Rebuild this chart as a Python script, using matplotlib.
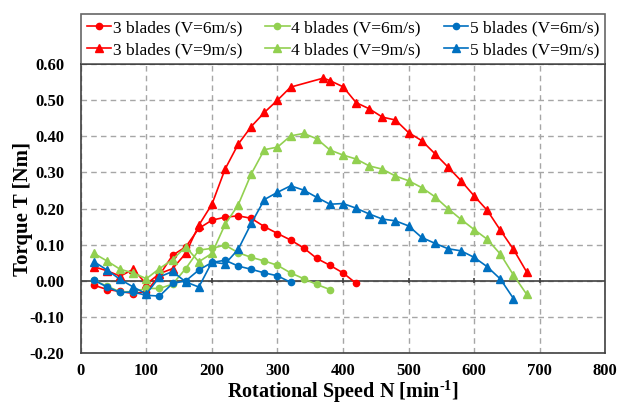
import matplotlib
matplotlib.use('Agg')
import matplotlib.pyplot as plt
import numpy as np

plt.rcParams['font.family'] = ['Liberation Serif', 'DejaVu Serif']
plt.rcParams['mathtext.fontset'] = 'custom'
plt.rcParams['mathtext.bf'] = 'Liberation Serif:bold'
plt.rcParams['mathtext.rm'] = 'Liberation Serif'

# 3 blades
rpm_3b_v6 = [20, 40, 60, 80, 100, 120, 140, 160, 180, 200, 220, 240, 260, 280,
             300, 320, 340, 360, 380, 400, 420]
torque_3b_v6 = [-0.012, -0.024, -0.029, -0.035, -0.030, 0.016, 0.071, 0.094,
                0.145, 0.168, 0.176, 0.180, 0.173, 0.150, 0.131, 0.113, 0.091,
                0.062, 0.043, 0.022, -0.007]
rpm_3b_v9 = [20, 40, 60, 80, 100, 120, 140, 160, 180, 200, 220, 240, 260, 280,
             300, 320, 370, 380, 400, 420, 440, 460, 480, 500, 520, 540, 560,
             580, 600, 620, 640, 660, 680]
torque_3b_v9 = [0.039, 0.028, 0.013, 0.032, -0.009, 0.020, 0.034, 0.076, 0.154,
                0.212, 0.309, 0.378, 0.427, 0.466, 0.500, 0.536, 0.561, 0.554,
                0.537, 0.493, 0.476, 0.453, 0.445, 0.410, 0.388, 0.352, 0.315,
                0.277, 0.235, 0.195, 0.140, 0.087, 0.025]

# 4 blades
rpm_4b_v6 = [20, 40, 60, 80, 100, 120, 140, 160, 180, 200, 220, 240, 260, 280,
             300, 320, 340, 360, 380]
torque_4b_v6 = [0.002, -0.015, -0.030, -0.030, -0.021, -0.021, -0.009, 0.034,
                0.085, 0.090, 0.099, 0.078, 0.065, 0.055, 0.043, 0.022, 0.006,
                -0.010, -0.024]
rpm_4b_v9 = [20, 40, 60, 80, 100, 120, 140, 160, 180, 200, 220, 240, 260, 280,
             300, 320, 340, 360, 380, 400, 420, 440, 460, 480, 500, 520, 540,
             560, 580, 600, 620, 640, 660, 680]
torque_4b_v9 = [0.076, 0.055, 0.032, 0.022, 0.006, 0.034, 0.059, 0.094, 0.053,
                0.076, 0.156, 0.210, 0.296, 0.363, 0.370, 0.401, 0.408, 0.393,
                0.362, 0.348, 0.337, 0.318, 0.309, 0.290, 0.277, 0.258, 0.233,
                0.200, 0.170, 0.142, 0.115, 0.074, 0.016, -0.037]

# 5 blades
rpm_5b_v6 = [20, 40, 60, 80, 100, 120, 140, 160, 180, 200, 220, 240, 260, 280,
             300, 320]
torque_5b_v6 = [0.002, -0.017, -0.032, -0.031, -0.040, -0.042, -0.007, 0.000,
                0.030, 0.051, 0.057, 0.041, 0.032, 0.022, 0.014, -0.004]
rpm_5b_v9 = [20, 40, 60, 80, 100, 120, 140, 160, 180, 200, 220, 240, 260, 280,
             300, 320, 340, 360, 380, 400, 420, 440, 460, 480, 500, 520, 540,
             560, 580, 600, 620, 640, 660]
torque_5b_v9 = [0.053, 0.030, 0.004, -0.017, -0.036, 0.011, 0.026, -0.003,
                -0.017, 0.052, 0.047, 0.087, 0.159, 0.225, 0.245, 0.263, 0.251,
                0.231, 0.212, 0.214, 0.201, 0.185, 0.171, 0.166, 0.152, 0.120,
                0.104, 0.089, 0.083, 0.065, 0.039, 0.005, -0.049]

rojo = '#FF0000'
verde = '#92D050'
azul = '#0070C0'

fig = plt.figure(figsize=(6.17, 4.05), dpi=100)
ax = fig.add_axes([0.131, 0.128, 0.850, 0.714])

l1, = ax.plot(rpm_3b_v6, torque_3b_v6, '-o', color=rojo, ms=4.5, lw=1.2,
              label='3 blades (V=6m/s)')
l2, = ax.plot(rpm_3b_v9, torque_3b_v9, '-^', color=rojo, ms=6, lw=1.2,
              label='3 blades (V=9m/s)')
l3, = ax.plot(rpm_4b_v6, torque_4b_v6, '-o', color=verde, ms=4.5, lw=1.2,
              label='4 blades (V=6m/s)')
l4, = ax.plot(rpm_4b_v9, torque_4b_v9, '-^', color=verde, ms=6, lw=1.2,
              label='4 blades (V=9m/s)')
l5, = ax.plot(rpm_5b_v6, torque_5b_v6, '-o', color=azul, ms=4.5, lw=1.2,
              label='5 blades (V=6m/s)')
l6, = ax.plot(rpm_5b_v9, torque_5b_v9, '-^', color=azul, ms=6, lw=1.2,
              label='5 blades (V=9m/s)')

ax.set_xlim(0, 800)
ax.set_ylim(-0.20, 0.60)
ax.set_xticks(np.arange(0, 801, 100))
ax.set_yticks(np.arange(-0.2, 0.61, 0.1))
ax.set_yticklabels(['{:.2f}'.format(v) for v in np.arange(-0.2, 0.61, 0.1)])
ax.tick_params(length=0, labelsize=12)
ax.tick_params(axis='y', pad=12)
ax.tick_params(axis='x', pad=7)
for t in ax.get_xticklabels() + ax.get_yticklabels():
    t.set_fontweight('bold')

ax.grid(True, color='#a6a6a6', linestyle=(0, (4, 3)), lw=1)
ax.set_axisbelow(True)
ax.axhline(0, color='#404040', lw=1.2, zorder=1.5)
ax.vlines(ax.get_xticks()[1:-1], -0.007, 0.007, color='#404040', lw=1.2,
          zorder=1.5)
for lado in ['left', 'top', 'right', 'bottom']:
    ax.spines[lado].set_color('#404040')
    ax.spines[lado].set_linewidth(1.2)

ax.set_xlabel(r'Rotational Speed N [min$^{\mathbf{\text{-}1}}$]', fontsize=14.5,
              fontweight='bold')
ax.xaxis.set_label_coords(0.5, -0.086)
ax.set_ylabel('Torque T [Nm]', fontsize=15, fontweight='bold')
ax.yaxis.set_label_coords(-0.092, 0.5)

leg = ax.legend(handles=[l1, l2, l3, l4, l5, l6], ncol=3,
                loc='lower left', bbox_to_anchor=(0, 1.0, 1, 0.17),
                mode='expand', borderaxespad=0, fontsize=12.5, frameon=True,
                fancybox=False, edgecolor='#404040', handlelength=1.4,
                handletextpad=0.1, labelspacing=0.3, borderpad=0.35)
leg.get_frame().set_linewidth(1.2)

fig.savefig('out.png', dpi=100)
